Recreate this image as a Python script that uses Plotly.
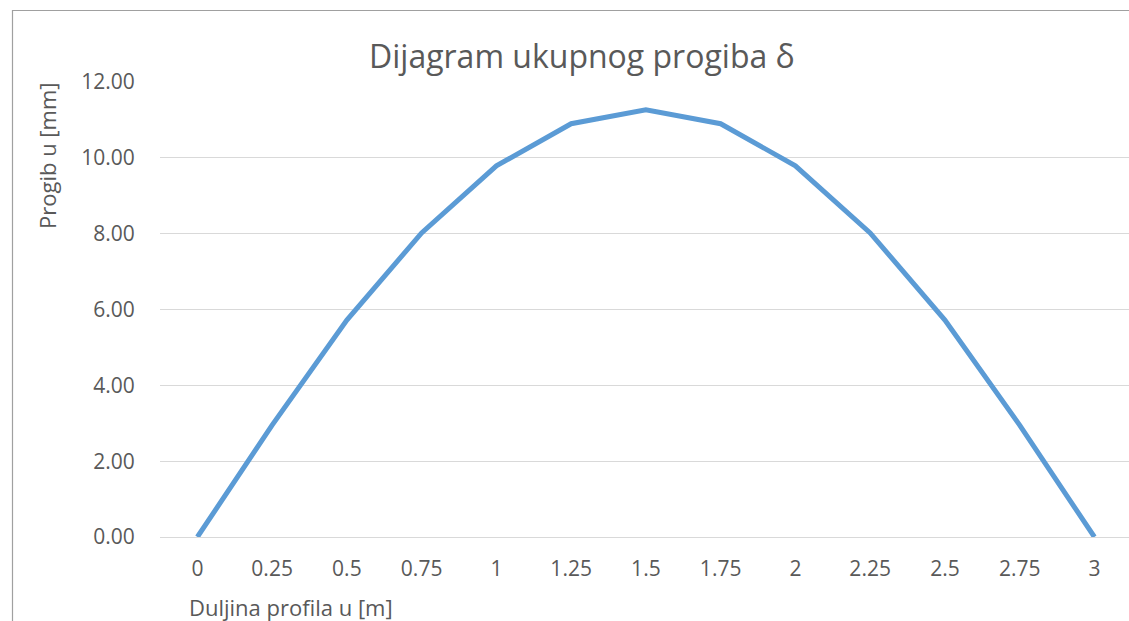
import plotly.graph_objects as go

categories = ["0", "0.25", "0.5", "0.75", "1", "1.25", "1.5", "1.75", "2", "2.25", "2.5", "2.75", "3"]
deflection = [0.00, 2.95, 5.72, 8.02, 9.79, 10.90, 11.27, 10.90, 9.79, 8.02, 5.72, 2.95, 0.00]
yticks = [0, 2, 4, 6, 8, 10, 12]

W, H = 1129, 621
L, R, T, B = 160, 1129, 82, 537
pw, ph = R - L, B - T

def px(x):
    return (x - L) / pw

def py(y):
    return (B - y) / ph

FONT = "Open Sans"
TXT = "#595959"

fig = go.Figure()
fig.add_trace(go.Scatter(
    x=categories, y=deflection, mode="lines",
    line=dict(color="#5B9BD5", width=5),
    hoverinfo="x+y", showlegend=False,
))

fig.update_layout(
    width=W, height=H,
    margin=dict(l=L, r=W - R, t=T, b=H - B, pad=0),
    paper_bgcolor="white", plot_bgcolor="white",
    font=dict(family=FONT, color=TXT, size=21),
    xaxis=dict(
        type="category", range=[-0.5, len(categories) - 0.5 - (L + 12.5 * 74.75 + 37.4 - R) / 74.75],
        showgrid=False, showline=False, zeroline=False,
        ticks="outside", ticklen=13, tickcolor="rgba(0,0,0,0)",
        tickfont=dict(family=FONT, size=21, color=TXT),
    ),
    yaxis=dict(
        range=[0, 12], tickvals=yticks, tickformat=".2f",
        showgrid=True, gridcolor="#D9D9D9", gridwidth=1.3,
        zeroline=True, zerolinecolor="#D9D9D9", zerolinewidth=1.3,
        showline=False,
        ticks="outside", ticklen=20, tickcolor="rgba(0,0,0,0)",
        tickfont=dict(family=FONT, size=21, color=TXT),
    ),
    annotations=[
        dict(text="Dijagram ukupnog progiba δ", xref="paper", yref="paper",
             x=px(582), y=py(55), xanchor="center", yanchor="middle",
             showarrow=False, font=dict(family=FONT, size=32, color=TXT)),
        dict(text="Duljina profila u [m]", xref="paper", yref="paper",
             x=px(291), y=py(607), xanchor="center", yanchor="middle",
             showarrow=False, font=dict(family=FONT, size=22, color=TXT)),
        dict(text="Progib u [mm]", xref="paper", yref="paper",
             x=px(47), y=py(156), xanchor="center", yanchor="middle", textangle=-90,
             showarrow=False, font=dict(family=FONT, size=22, color=TXT)),
    ],
    shapes=[
        dict(type="line", xref="paper", yref="paper",
             x0=px(12.5), x1=px(12.5), y0=py(10), y1=py(630),
             line=dict(color="#A0A0A0", width=1.2)),
        dict(type="line", xref="paper", yref="paper",
             x0=px(12), x1=px(1140), y0=py(10.5), y1=py(10.5),
             line=dict(color="#A0A0A0", width=1.2)),
    ],
)

fig.write_html(
    "out.html",
    config={"displayModeBar": False, "responsive": False},
    post_script="document.body.style.margin='0';document.body.style.overflow='hidden';",
)
